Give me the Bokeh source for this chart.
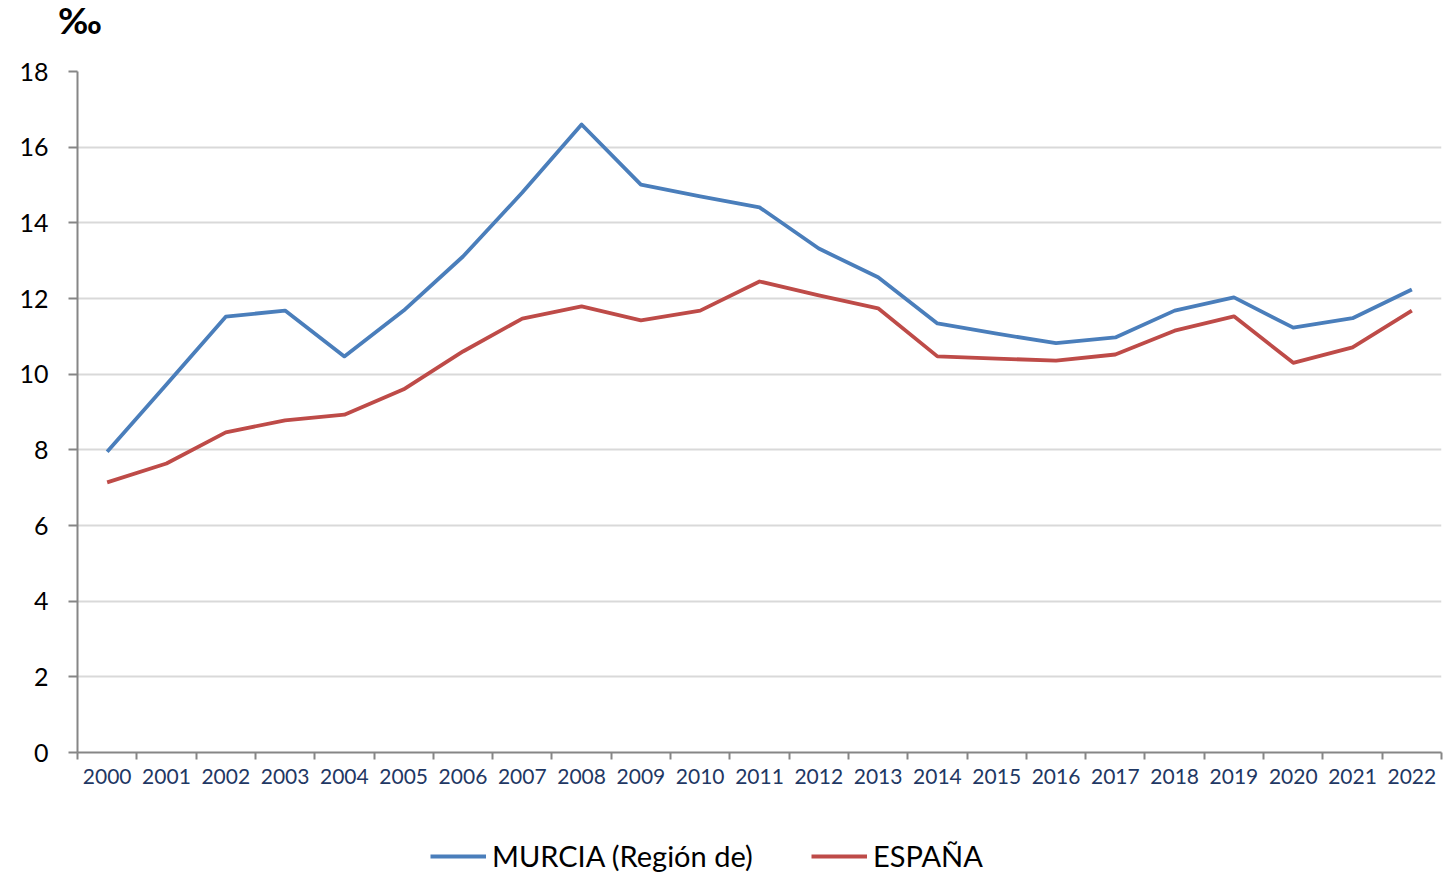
from bokeh.plotting import figure
from bokeh.models import FixedTicker, Range1d, Legend, LegendItem, Div
from bokeh.layouts import column
from bokeh.embed import file_html
from bokeh.resources import INLINE

years = list(range(2000, 2023))
murcia = [7.95, 9.73, 11.52, 11.68, 10.47, 11.68, 13.11, 14.80, 16.60, 15.01, 14.70, 14.41,
          13.32, 12.56, 11.34, 11.07, 10.82, 10.97, 11.68, 12.03, 11.23, 11.48, 12.24]
espana = [7.14, 7.64, 8.46, 8.78, 8.93, 9.60, 10.60, 11.47, 11.79, 11.42, 11.68, 12.45,
          12.08, 11.74, 10.47, 10.41, 10.36, 10.52, 11.15, 11.53, 10.30, 10.71, 11.68]
y_ticks = list(range(0, 19, 2))
series_names = ["MURCIA (Región de)", "ESPAÑA"]
series_colors = ["#4a7ebb", "#be4b48"]
unit_label = "‰"

FONT = "Lato"
GRID = "#d9d9d9"
AXIS = "#868686"
LW = 3.8

# unit label above the chart
unit = Div(text=unit_label, width=300, height=40, margin=(0, 0, 0, 58),
           styles={"font-family": FONT, "font-size": "37px", "font-weight": "bold",
                   "line-height": "40px", "color": "black"})

p = figure(width=1444, height=756, output_backend="svg", toolbar_location=None,
           x_range=Range1d(years[0] - 0.5, years[-1] + 0.5), y_range=Range1d(0, 18),
           min_border_left=77, min_border_right=3, min_border_top=31, min_border_bottom=44)
p.title.text = ""
p.outline_line_color = None
p.background_fill_color = "white"
p.border_fill_color = "white"

# y axis
p.yaxis.ticker = FixedTicker(ticks=y_ticks)
p.yaxis.axis_line_color = AXIS
p.yaxis.axis_line_width = 2
p.yaxis.major_tick_line_color = AXIS
p.yaxis.major_tick_line_width = 2
p.yaxis.major_tick_out = 9
p.yaxis.major_tick_in = 0
p.yaxis.minor_tick_line_color = None
p.yaxis.major_label_text_font = FONT
p.yaxis.major_label_text_font_size = "25px"
p.yaxis.major_label_text_color = "black"
p.yaxis.major_label_standoff = 20

# x axis: labels at category centers, ticks at boundaries
p.xaxis.ticker = FixedTicker(ticks=years, minor_ticks=[y - 0.5 for y in years] + [years[-1] + 0.5])
p.xaxis.major_label_overrides = {y: str(y) for y in years}
p.xaxis.axis_line_color = AXIS
p.xaxis.axis_line_width = 2
p.xaxis.major_tick_line_color = None
p.xaxis.major_tick_out = 0
p.xaxis.major_tick_in = 0
p.xaxis.minor_tick_line_color = AXIS
p.xaxis.minor_tick_line_width = 2
p.xaxis.minor_tick_out = 7
p.xaxis.minor_tick_in = 0
p.xaxis.major_label_text_font = FONT
p.xaxis.major_label_text_font_size = "21px"
p.xaxis.major_label_text_color = "#1f3864"
p.xaxis.major_label_standoff = 9

p.xgrid.grid_line_color = None
p.ygrid.grid_line_color = GRID
p.ygrid.grid_line_width = 2

p.line(years, murcia, line_color=series_colors[0], line_width=LW, line_join="round")
p.line(years, espana, line_color=series_colors[1], line_width=LW, line_join="round")

# legend strip below the chart (its key lines fall outside this strip's ranges)
leg = figure(width=1444, height=78, output_backend="svg", toolbar_location=None,
             x_axis_type=None, y_axis_type=None, x_range=Range1d(0, 1), y_range=Range1d(0, 1),
             min_border_left=0, min_border_right=0, min_border_top=0, min_border_bottom=0)
leg.outline_line_color = None
leg.grid.visible = False
k1 = leg.line(years, murcia, line_color=series_colors[0], line_width=LW)
k2 = leg.line(years, espana, line_color=series_colors[1], line_width=LW)
legend = Legend(items=[LegendItem(label=series_names[0], renderers=[k1]),
                       LegendItem(label=series_names[1], renderers=[k2])],
                orientation="horizontal", location=(353, 1),
                label_text_font=FONT, label_text_font_size="29px", label_text_color="black",
                glyph_width=56, glyph_height=24, label_standoff=6, spacing=55,
                label_width=264,
                padding=0, margin=0, border_line_color=None, background_fill_alpha=0)
leg.add_layout(legend, "center")

layout = column(unit, p, leg, spacing=0)
open("out.html", "w").write(file_html(layout, INLINE))
